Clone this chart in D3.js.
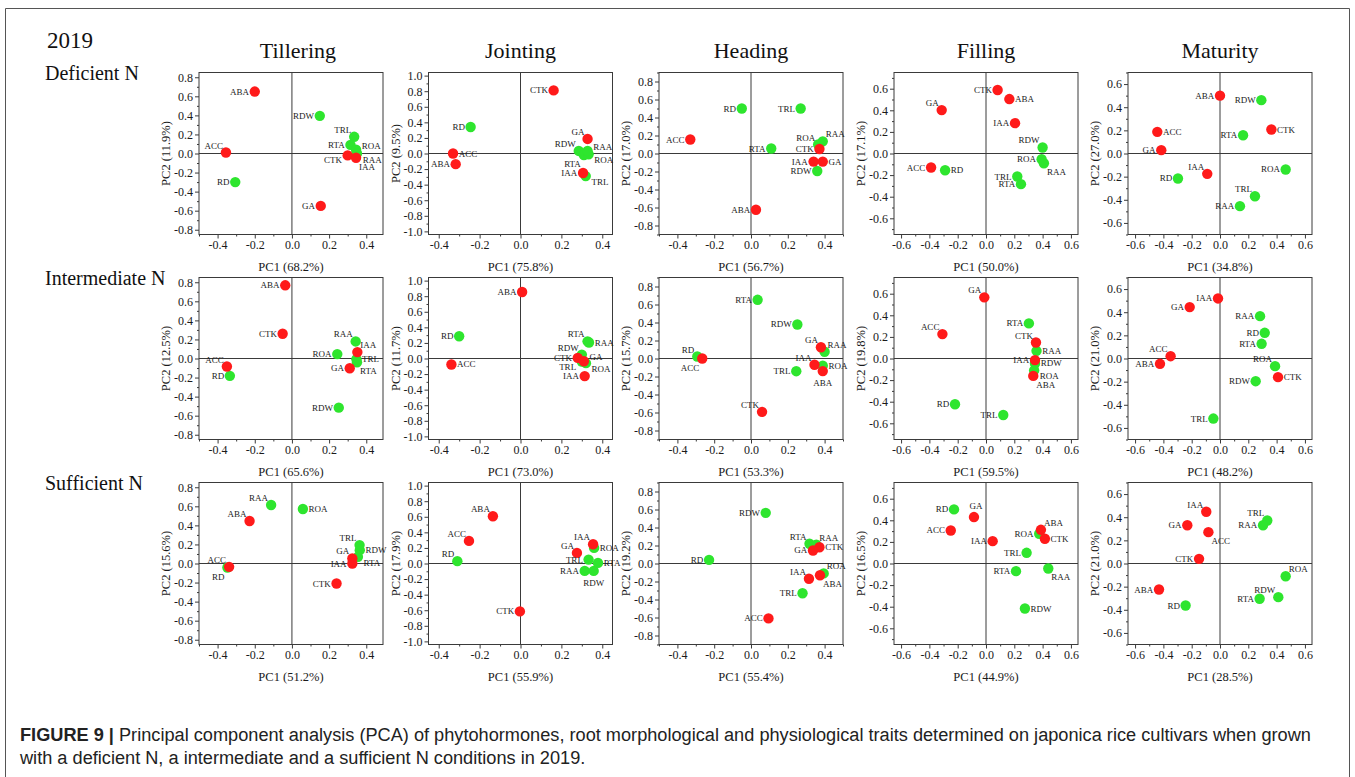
<!DOCTYPE html>
<html>
<head>
<meta charset="utf-8">
<script src="https://cdn.jsdelivr.net/npm/d3@7"></script>
<style>
  body { margin: 0; background: #fff; }
  svg { display: block; }
</style>
</head>
<body>
<svg id="fig" width="1355" height="777"></svg>
<script>
// ---- Traits (order of every score array below) ----
const traits = ["ABA", "ACC", "CTK", "GA", "IAA", "RD", "RDW", "TRL", "RTA", "ROA", "RAA"];
const hormoneTraits = ["ABA", "ACC", "CTK", "GA", "IAA"];

const stages = ["Tillering", "Jointing", "Heading", "Filling", "Maturity"];
const nitrogenLevels = ["Deficient N", "Intermediate N", "Sufficient N"];

// Explained variance (%) of PC1 and PC2, rows = N level, columns = stage
const pc1Variance = [
  [68.2, 75.8, 56.7, 50.0, 34.8],
  [65.6, 73.0, 53.3, 59.5, 48.2],
  [51.2, 55.9, 55.4, 44.9, 28.5]
];
const pc2Variance = [
  [11.9, 9.5, 17.0, 17.1, 27.0],
  [12.5, 11.7, 15.7, 19.8, 21.0],
  [15.6, 17.9, 19.2, 16.5, 21.0]
];

// ---- Loadings [PC1, PC2] per trait ----
// Deficient N
const deficientTillering = [[-0.20,0.65],[-0.355,0.01],[0.30,-0.02],[0.155,-0.55],[0.345,-0.045],[-0.305,-0.30],[0.15,0.395],[0.335,0.175],[0.315,0.09],[0.345,0.04],[0.35,0.0]];
const deficientJointing  = [[-0.317,-0.137],[-0.33,0.0],[0.162,0.81],[0.328,0.187],[0.306,-0.25],[-0.244,0.34],[0.285,0.033],[0.319,-0.29],[0.31,-0.02],[0.333,-0.01],[0.328,0.033]];
const deficientHeading   = [[0.027,-0.625],[-0.33,0.155],[0.372,0.05],[0.39,-0.09],[0.34,-0.09],[-0.05,0.5],[0.36,-0.195],[0.27,0.5],[0.11,0.055],[0.365,0.1],[0.39,0.135]];
const deficientFilling   = [[0.165,0.504],[-0.388,-0.13],[0.082,0.588],[-0.313,0.402],[0.205,0.281],[-0.289,-0.155],[0.40,0.056],[0.221,-0.213],[0.247,-0.284],[0.393,-0.053],[0.409,-0.09]];
const deficientMaturity  = [[0.0,0.50],[-0.443,0.187],[0.363,0.207],[-0.415,0.029],[-0.09,-0.176],[-0.297,-0.216],[0.292,0.461],[0.247,-0.369],[0.163,0.158],[0.464,-0.138],[0.141,-0.455]];
// Intermediate N
const intermediateTillering = [[-0.036,0.768],[-0.35,-0.084],[-0.05,0.26],[0.311,-0.102],[0.352,0.067],[-0.334,-0.182],[0.252,-0.516],[0.347,-0.007],[0.35,-0.04],[0.244,0.046],[0.343,0.179]];
const intermediateJointing  = [[0.008,0.854],[-0.338,-0.077],[0.28,0.008],[0.31,-0.035],[0.314,-0.226],[-0.30,0.286],[0.30,0.05],[0.30,-0.04],[0.328,0.22],[0.32,-0.06],[0.335,0.205]];
const intermediateHeading   = [[0.39,-0.14],[-0.265,0.0],[0.06,-0.593],[0.38,0.125],[0.345,-0.07],[-0.292,0.022],[0.252,0.378],[0.246,-0.141],[0.036,0.652],[0.39,-0.08],[0.40,0.075]];
const intermediateFilling   = [[0.334,-0.161],[-0.308,0.226],[0.353,0.148],[-0.012,0.566],[0.346,-0.015],[-0.219,-0.424],[0.346,-0.046],[0.122,-0.523],[0.303,0.325],[0.34,-0.11],[0.357,0.071]];
const intermediateMaturity  = [[-0.424,-0.046],[-0.349,0.02],[0.41,-0.161],[-0.214,0.444],[-0.014,0.519],[0.316,0.222],[0.252,-0.196],[-0.047,-0.519],[0.294,0.127],[0.389,-0.066],[0.283,0.366]];
// Sufficient N
const sufficientTillering = [[-0.228,0.446],[-0.338,-0.035],[0.24,-0.21],[0.325,0.053],[0.325,0.0],[-0.347,-0.042],[0.365,0.14],[0.364,0.193],[0.355,0.07],[0.059,0.572],[-0.112,0.614]];
const sufficientJointing  = [[-0.135,0.606],[-0.252,0.29],[-0.003,-0.615],[0.276,0.136],[0.355,0.247],[-0.309,0.03],[0.358,-0.095],[0.333,0.05],[0.379,0.008],[0.36,0.20],[0.314,-0.095]];
const sufficientHeading   = [[0.375,-0.13],[0.095,-0.61],[0.372,0.18],[0.337,0.145],[0.315,-0.17],[-0.228,0.04],[0.08,0.563],[0.28,-0.33],[0.318,0.22],[0.395,-0.11],[0.355,0.21]];
const sufficientFilling   = [[0.388,0.312],[-0.249,0.306],[0.416,0.229],[-0.085,0.43],[0.047,0.207],[-0.226,0.501],[0.275,-0.417],[0.287,0.099],[0.212,-0.071],[0.376,0.275],[0.44,-0.046]];
const sufficientMaturity  = [[-0.431,-0.225],[-0.082,0.271],[-0.148,0.04],[-0.231,0.331],[-0.097,0.447],[-0.243,-0.363],[0.412,-0.291],[0.334,0.372],[0.28,-0.305],[0.464,-0.11],[0.304,0.331]];

const loadings = [
  [deficientTillering, deficientJointing, deficientHeading, deficientFilling, deficientMaturity],
  [intermediateTillering, intermediateJointing, intermediateHeading, intermediateFilling, intermediateMaturity],
  [sufficientTillering, sufficientJointing, sufficientHeading, sufficientFilling, sufficientMaturity]
];

// ---- Axis domains and tick values per stage ----
const xDomains = [[-0.5, 0.49], [-0.45, 0.45], [-0.5, 0.5], [-0.65, 0.65], [-0.65, 0.65]];
const yDomains = [[-0.85, 0.85], [-1.04, 1.04], [-0.9, 0.9], [-0.75, 0.75], [-0.7, 0.7]];
const xTicks = [
  [-0.4, -0.2, 0, 0.2, 0.4],
  [-0.4, -0.2, 0, 0.2, 0.4],
  [-0.4, -0.2, 0, 0.2, 0.4],
  [-0.6, -0.4, -0.2, 0, 0.2, 0.4, 0.6],
  [-0.6, -0.4, -0.2, 0, 0.2, 0.4, 0.6]
];
const yTicks = [
  [-0.8, -0.6, -0.4, -0.2, 0, 0.2, 0.4, 0.6, 0.8],
  [-1.0, -0.8, -0.6, -0.4, -0.2, 0, 0.2, 0.4, 0.6, 0.8, 1.0],
  [-0.8, -0.6, -0.4, -0.2, 0, 0.2, 0.4, 0.6, 0.8],
  [-0.6, -0.4, -0.2, 0, 0.2, 0.4, 0.6],
  [-0.6, -0.4, -0.2, 0, 0.2, 0.4, 0.6]
];

// ---- Which side of its dot each trait label sits on ----
const labelSides = [
  [
    ["l","tl","ld","l","br","l","l","tl","l","ru","rd"],
    ["l","r","l","tl","l","l","tl","rd","bl","rd","ru"],
    ["l","l","l","r","l","l","l","l","l","tl","tr"],
    ["r","l","l","tl","l","r","tl","l","l","l","br"],
    ["l","r","r","l","tl","l","l","tl","l","l","l"]
  ],
  [
    ["l","tl","l","l","tr","l","l","r","br","l","tl"],
    ["l","r","l","ru","l","l","tl","ld","tl","rd","r"],
    ["b","bl","tl","tl","tl","tl","l","l","l","r","tr"],
    ["br","tl","tl","tl","l","l","r","l","l","rd","r"],
    ["l","tl","r","l","l","l","l","l","l","tl","l"]
  ],
  [
    ["tl","tl","l","tl","l","bl","r","tl","rd","r","tl"],
    ["tl","tl","l","tl","tl","tl","b","l","r","r","l"],
    ["br","l","r","l","tl","l","l","l","tl","tr","tr"],
    ["tr","l","r","t","l","l","r","l","l","l","br"],
    ["l","br","l","l","tl","l","tl","tl","l","tr","l"]
  ]
];

// ---- Layout ----
const panelLeft = [199, 428.5, 659, 894, 1128];
const panelTop = [72.5, 277.5, 482.5];
const panelW = 184, panelH = 162;
const dotR = 5.2;

const serif = "'Liberation Serif', 'Times New Roman', serif";
const sans = "'Liberation Sans', Arial, Helvetica, sans-serif";
const axisColor = "#3a3a3a";
const hormoneColor = "#ff1a1a";
const rootColor = "#2ee52e";

const fmt = d => (Math.abs(d) < 1e-9 ? 0 : d).toFixed(1);

const labelOffset = {
  l:  { dx: -dotR - 0.5, dy: 3,  anchor: "end" },
  lu: { dx: -dotR - 0.5, dy: -1, anchor: "end" },
  ld: { dx: -dotR - 0.5, dy: 8,  anchor: "end" },
  r:  { dx: dotR + 0.5,  dy: 3,  anchor: "start" },
  ru: { dx: dotR + 0.5,  dy: -1, anchor: "start" },
  rd: { dx: dotR + 0.5,  dy: 9,  anchor: "start" },
  tl: { dx: -3, dy: -4,  anchor: "end" },
  tr: { dx: 3,  dy: -4,  anchor: "start" },
  bl: { dx: -3, dy: 12,  anchor: "end" },
  br: { dx: 3,  dy: 12,  anchor: "start" },
  b:  { dx: 0,  dy: 15,  anchor: "middle" },
  t:  { dx: 2,  dy: -8,  anchor: "middle" }
};

const svg = d3.select("#fig");

// Outer frame
svg.append("path")
  .attr("d", "M5.5,790 V8.5 H1349.5 V790")
  .attr("fill", "none")
  .attr("stroke", "#555")
  .attr("stroke-width", 1);

// Year and row labels
svg.append("text").attr("x", 47).attr("y", 48)
  .attr("font-family", serif).attr("font-size", 23).attr("fill", "#111").text("2019");
nitrogenLevels.forEach((name, r) => {
  svg.append("text").attr("x", 45).attr("y", panelTop[r] + 7)
    .attr("font-family", serif).attr("font-size", 20).attr("fill", "#111").text(name);
});

// Column titles
stages.forEach((name, c) => {
  const x = d3.scaleLinear().domain(xDomains[c]).range([panelLeft[c], panelLeft[c] + panelW]);
  svg.append("text").attr("x", x(0) + (c === 0 ? 6 : 0)).attr("y", 58)
    .attr("text-anchor", "middle")
    .attr("font-family", serif).attr("font-size", 22).attr("fill", "#111").text(name);
});

function minorTicks(domain, majors) {
  const out = [];
  const lo = Math.ceil(domain[0] * 10 - 1e-6), hi = Math.floor(domain[1] * 10 + 1e-6);
  for (let k = lo; k <= hi; k++) {
    const v = k / 10;
    if (!majors.some(m => Math.abs(m - v) < 1e-6)) out.push(v);
  }
  return out;
}

loadings.forEach((rowPanels, r) => {
  rowPanels.forEach((scores, c) => {
    const g = svg.append("g").attr("transform", `translate(${panelLeft[c]},${panelTop[r]})`);
    const x = d3.scaleLinear().domain(xDomains[c]).range([0, panelW]);
    const y = d3.scaleLinear().domain(yDomains[c]).range([panelH, 0]);

    // Axes with major and minor ticks
    const styleAxis = sel => {
      sel.select(".domain").remove();
      sel.selectAll(".tick line").attr("stroke", axisColor);
      sel.selectAll(".tick text")
        .attr("font-family", serif).attr("font-size", 12).attr("fill", "#1a1a1a");
    };
    g.append("g").attr("transform", `translate(0,${panelH})`)
      .call(d3.axisBottom(x).tickValues(xTicks[c]).tickFormat(fmt).tickSize(4).tickPadding(2))
      .call(styleAxis);
    g.append("g").attr("transform", `translate(0,${panelH})`)
      .call(d3.axisBottom(x).tickValues(minorTicks(xDomains[c], xTicks[c])).tickFormat("").tickSize(2))
      .call(styleAxis);
    g.append("g")
      .call(d3.axisLeft(y).tickValues(yTicks[c]).tickFormat(fmt).tickSize(4).tickPadding(2))
      .call(styleAxis);
    g.append("g")
      .call(d3.axisLeft(y).tickValues(minorTicks(yDomains[c], yTicks[c])).tickFormat("").tickSize(2))
      .call(styleAxis);

    // Frame and zero lines
    g.append("rect").attr("width", panelW).attr("height", panelH)
      .attr("fill", "none").attr("stroke", axisColor).attr("stroke-width", 1);
    g.append("line").attr("x1", x(0)).attr("x2", x(0)).attr("y1", 0).attr("y2", panelH)
      .attr("stroke", axisColor).attr("stroke-width", 1);
    g.append("line").attr("x1", 0).attr("x2", panelW).attr("y1", y(0)).attr("y2", y(0))
      .attr("stroke", axisColor).attr("stroke-width", 1);

    // Axis titles
    g.append("text").attr("x", panelW / 2).attr("y", panelH + 36)
      .attr("text-anchor", "middle").attr("font-family", serif).attr("font-size", 12.5)
      .attr("fill", "#1a1a1a").text(`PC1 (${pc1Variance[r][c].toFixed(1)}%)`);
    g.append("text")
      .attr("transform", `translate(-29,${panelH / 2}) rotate(-90)`)
      .attr("text-anchor", "middle").attr("font-family", serif).attr("font-size", 12.5)
      .attr("fill", "#1a1a1a").text(`PC2 (${pc2Variance[r][c].toFixed(1)}%)`);

    // Points: root traits first, hormones drawn on top
    const pts = traits.map((t, i) => ({
      trait: t, pc1: scores[i][0], pc2: scores[i][1],
      hormone: hormoneTraits.includes(t), side: labelSides[r][c][i]
    }));
    const ordered = pts.filter(p => !p.hormone).concat(pts.filter(p => p.hormone));

    g.selectAll("circle.pt").data(ordered).join("circle")
      .attr("class", "pt")
      .attr("cx", d => x(d.pc1)).attr("cy", d => y(d.pc2)).attr("r", dotR)
      .attr("fill", d => d.hormone ? hormoneColor : rootColor);

    g.selectAll("text.lbl").data(pts).join("text")
      .attr("class", "lbl")
      .attr("x", d => x(d.pc1) + labelOffset[d.side].dx)
      .attr("y", d => y(d.pc2) + labelOffset[d.side].dy)
      .attr("text-anchor", d => labelOffset[d.side].anchor)
      .attr("font-family", serif).attr("font-size", 9).attr("fill", "#1a1a1a")
      .text(d => d.trait);
  });
});

// Caption
const capLine1 = svg.append("text").attr("x", 20).attr("y", 741)
  .attr("font-family", sans).attr("font-size", 16).attr("fill", "#222");
capLine1.append("tspan").attr("font-weight", "bold").text("FIGURE 9 | ");
capLine1.append("tspan").text("Principal component analysis (PCA) of phytohormones, root morphological and physiological traits determined on japonica rice cultivars when grown");
const capLine2 = svg.append("text").attr("x", 20).attr("y", 764)
  .attr("font-family", sans).attr("font-size", 16).attr("fill", "#222")
  .text("with a deficient N, a intermediate and a sufficient N conditions in 2019.");

// Fit the caption font so the first line spans the text block width
const w1 = capLine1.node().getComputedTextLength();
const fs = 16 * 1292 / w1;
capLine1.attr("font-size", fs);
capLine2.attr("font-size", fs);
</script>
</body>
</html>
